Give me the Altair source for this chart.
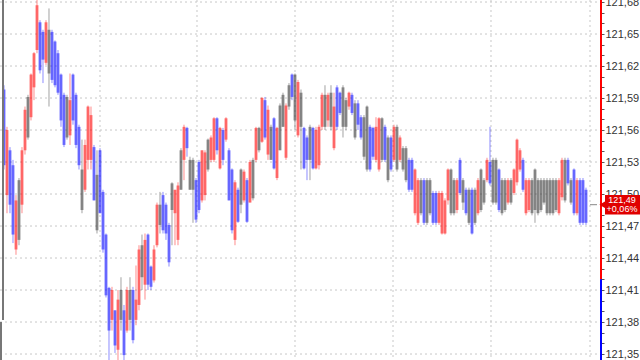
import altair as alt
import pandas as pd

# candle colour kind: r = up (red), b = down (blue), g = unchanged/other (gray)
kinds = list(
    "brbbrgrrgr" "rrbbrgbbbb" "bgrbbbgrrr" "bgbbbbrbrg" "brgbrrgrbb"
    "rrgbbbgrrg" "rbggbbrrgr" "rbrbrbbrbg" "rbrgrgrbrg" "brggrgbgrg"
    "bbgbrrrgrg" "rbbggrbgbb" "ggbbrrgbgb" "rgrggbbrrg" "bggbbrrrrg"
    "grbgbgbgrg" "grbggbggrg" "rrrbrrgggg" "gggggrrgbg" "brbbb"
)

body_tops = [
    121.598, 121.560, 121.541, 121.527, 121.494, 121.513, 121.541, 121.579, 121.591, 121.612,
    121.632, 121.677, 121.661, 121.652, 121.661, 121.654, 121.652, 121.643, 121.632, 121.612,
    121.593, 121.591, 121.588, 121.612, 121.593, 121.563, 121.523, 121.546, 121.582, 121.574,
    121.544, 121.518, 121.541, 121.502, 121.462, 121.412, 121.410, 121.391, 121.401, 121.410,
    121.391, 121.410, 121.410, 121.410, 121.401, 121.448, 121.452, 121.457, 121.462, 121.432,
    121.448, 121.490, 121.490, 121.499, 121.490, 121.471, 121.510, 121.504, 121.508, 121.541,
    121.563, 121.562, 121.532, 121.532, 121.513, 121.530, 121.541, 121.539, 121.551, 121.553,
    121.571, 121.571, 121.562, 121.560, 121.571, 121.541, 121.523, 121.511, 121.504, 121.523,
    121.521, 121.513, 121.530, 121.532, 121.562, 121.562, 121.590, 121.588, 121.579, 121.563,
    121.571, 121.562, 121.583, 121.593, 121.583, 121.602, 121.612, 121.612, 121.605, 121.595,
    121.562, 121.553, 121.563, 121.562, 121.560, 121.563, 121.593, 121.593, 121.593, 121.595,
    121.582, 121.600, 121.595, 121.600, 121.588, 121.595, 121.593, 121.585, 121.585, 121.572,
    121.572, 121.582, 121.563, 121.562, 121.563, 121.571, 121.571, 121.563, 121.553, 121.553,
    121.563, 121.563, 121.553, 121.543, 121.543, 121.532, 121.532, 121.523, 121.513, 121.513,
    121.513, 121.513, 121.513, 121.501, 121.501, 121.501, 121.501, 121.494, 121.523, 121.523,
    121.513, 121.513, 121.532, 121.513, 121.504, 121.504, 121.504, 121.504, 121.513, 121.523,
    121.513, 121.532, 121.530, 121.532, 121.532, 121.523, 121.513, 121.513, 121.513, 121.513,
    121.523, 121.551, 121.541, 121.532, 121.513, 121.513, 121.513, 121.523, 121.513, 121.513,
    121.513, 121.513, 121.513, 121.513, 121.513, 121.513, 121.532, 121.532, 121.532, 121.513,
    121.523, 121.513, 121.513, 121.513, 121.504,
]

body_bottoms = [
    121.527, 121.499, 121.490, 121.462, 121.448, 121.457, 121.490, 121.541, 121.553, 121.572,
    121.600, 121.635, 121.616, 121.626, 121.623, 121.613, 121.607, 121.602, 121.595, 121.569,
    121.546, 121.553, 121.555, 121.569, 121.546, 121.527, 121.485, 121.504, 121.532, 121.532,
    121.494, 121.466, 121.482, 121.448, 121.405, 121.372, 121.382, 121.358, 121.354, 121.382,
    121.349, 121.372, 121.382, 121.363, 121.382, 121.396, 121.422, 121.415, 121.415, 121.413,
    121.419, 121.452, 121.471, 121.466, 121.463, 121.436, 121.485, 121.482, 121.457, 121.504,
    121.532, 121.543, 121.504, 121.504, 121.476, 121.485, 121.494, 121.499, 121.523, 121.532,
    121.532, 121.541, 121.524, 121.532, 121.551, 121.494, 121.466, 121.457, 121.474, 121.490,
    121.494, 121.474, 121.492, 121.496, 121.532, 121.541, 121.549, 121.553, 121.537, 121.532,
    121.524, 121.515, 121.541, 121.563, 121.534, 121.582, 121.591, 121.569, 121.555, 121.563,
    121.524, 121.532, 121.532, 121.524, 121.524, 121.527, 121.563, 121.563, 121.569, 121.563,
    121.543, 121.563, 121.576, 121.563, 121.563, 121.582, 121.576, 121.553, 121.565, 121.553,
    121.535, 121.523, 121.523, 121.535, 121.532, 121.523, 121.532, 121.532, 121.513, 121.523,
    121.532, 121.523, 121.532, 121.523, 121.513, 121.504, 121.504, 121.482, 121.473, 121.482,
    121.473, 121.473, 121.482, 121.473, 121.473, 121.473, 121.463, 121.463, 121.494, 121.482,
    121.482, 121.485, 121.501, 121.492, 121.482, 121.473, 121.463, 121.473, 121.482, 121.485,
    121.492, 121.513, 121.510, 121.492, 121.492, 121.485, 121.482, 121.485, 121.492, 121.492,
    121.501, 121.511, 121.523, 121.504, 121.482, 121.485, 121.482, 121.485, 121.482, 121.485,
    121.492, 121.482, 121.482, 121.482, 121.485, 121.482, 121.497, 121.494, 121.510, 121.492,
    121.482, 121.482, 121.473, 121.473, 121.473,
]

highs = [
    121.602, 121.563, 121.544, 121.532, 121.499, 121.515, 121.544, 121.582, 121.593, 121.613,
    121.633, 121.682, 121.663, 121.654, 121.663, 121.674, 121.654, 121.644, 121.635, 121.613,
    121.595, 121.593, 121.613, 121.613, 121.595, 121.565, 121.551, 121.551, 121.583, 121.582,
    121.546, 121.541, 121.543, 121.504, 121.463, 121.413, 121.413, 121.391, 121.410, 121.422,
    121.396, 121.413, 121.422, 121.413, 121.433, 121.452, 121.462, 121.463, 121.463, 121.433,
    121.452, 121.492, 121.502, 121.502, 121.492, 121.473, 121.511, 121.504, 121.511, 121.543,
    121.565, 121.563, 121.535, 121.534, 121.515, 121.532, 121.541, 121.541, 121.552, 121.555,
    121.572, 121.572, 121.563, 121.562, 121.572, 121.543, 121.524, 121.513, 121.506, 121.524,
    121.523, 121.515, 121.532, 121.534, 121.563, 121.563, 121.591, 121.591, 121.583, 121.565,
    121.572, 121.563, 121.585, 121.595, 121.585, 121.604, 121.613, 121.613, 121.607, 121.598,
    121.563, 121.555, 121.565, 121.563, 121.563, 121.565, 121.595, 121.602, 121.595, 121.602,
    121.595, 121.602, 121.596, 121.602, 121.590, 121.596, 121.595, 121.588, 121.588, 121.574,
    121.574, 121.583, 121.565, 121.563, 121.572, 121.572, 121.572, 121.565, 121.555, 121.555,
    121.565, 121.565, 121.555, 121.545, 121.545, 121.534, 121.534, 121.524, 121.515, 121.515,
    121.515, 121.515, 121.515, 121.503, 121.503, 121.503, 121.503, 121.496, 121.524, 121.524,
    121.515, 121.515, 121.534, 121.515, 121.506, 121.506, 121.506, 121.506, 121.515, 121.524,
    121.515, 121.534, 121.563, 121.534, 121.534, 121.524, 121.515, 121.515, 121.515, 121.515,
    121.524, 121.552, 121.543, 121.534, 121.515, 121.515, 121.515, 121.524, 121.515, 121.515,
    121.515, 121.515, 121.515, 121.515, 121.515, 121.515, 121.534, 121.534, 121.534, 121.515,
    121.524, 121.515, 121.515, 121.515, 121.506,
]

lows = [
    121.523, 121.482, 121.482, 121.454, 121.443, 121.452, 121.482, 121.537, 121.551, 121.569,
    121.588, 121.632, 121.613, 121.604, 121.621, 121.582, 121.604, 121.600, 121.593, 121.563,
    121.544, 121.551, 121.546, 121.565, 121.543, 121.523, 121.482, 121.502, 121.523, 121.523,
    121.494, 121.463, 121.482, 121.445, 121.403, 121.344, 121.372, 121.351, 121.344, 121.372,
    121.340, 121.370, 121.372, 121.360, 121.377, 121.391, 121.410, 121.401, 121.410, 121.410,
    121.417, 121.450, 121.463, 121.463, 121.457, 121.432, 121.452, 121.452, 121.452, 121.504,
    121.513, 121.535, 121.504, 121.473, 121.473, 121.482, 121.492, 121.494, 121.521, 121.530,
    121.530, 121.537, 121.523, 121.527, 121.549, 121.494, 121.463, 121.452, 121.473, 121.482,
    121.492, 121.473, 121.492, 121.494, 121.530, 121.539, 121.548, 121.551, 121.532, 121.532,
    121.523, 121.513, 121.541, 121.563, 121.532, 121.579, 121.588, 121.560, 121.553, 121.523,
    121.523, 121.513, 121.513, 121.523, 121.523, 121.523, 121.560, 121.560, 121.563, 121.560,
    121.541, 121.560, 121.574, 121.553, 121.560, 121.579, 121.574, 121.551, 121.560, 121.551,
    121.532, 121.521, 121.521, 121.532, 121.530, 121.521, 121.530, 121.530, 121.511, 121.521,
    121.530, 121.521, 121.530, 121.521, 121.511, 121.502, 121.502, 121.480, 121.471, 121.480,
    121.471, 121.471, 121.480, 121.471, 121.471, 121.471, 121.462, 121.462, 121.490, 121.480,
    121.480, 121.482, 121.499, 121.485, 121.480, 121.471, 121.462, 121.471, 121.480, 121.483,
    121.490, 121.511, 121.508, 121.490, 121.490, 121.483, 121.480, 121.483, 121.490, 121.490,
    121.499, 121.508, 121.521, 121.502, 121.480, 121.483, 121.480, 121.473, 121.480, 121.483,
    121.490, 121.480, 121.480, 121.480, 121.483, 121.480, 121.494, 121.492, 121.508, 121.490,
    121.480, 121.480, 121.471, 121.471, 121.471,
]

grid_levels = [121.35, 121.38, 121.41, 121.44, 121.47, 121.50, 121.53, 121.56, 121.59, 121.62, 121.65, 121.68]
tick_levels = [round(121.35 + k * 0.01, 2) for k in range(34)]
time_marks = [32, 64.33, 97, 129.67, 162.33, 195.33]
prev_close = 121.42
last_price = 121.49
last_label = "121,49"
change_label = "+0,06%"

df = pd.DataFrame({
    "i": list(range(len(kinds))),
    "kind": kinds,
    "top": body_tops,
    "bot": body_bottoms,
    "high": highs,
    "low": lows,
})

yscale = alt.Scale(domain=[121.3444, 121.6819], nice=False, zero=False)
xscale = alt.Scale(domain=[-1.3333, 198.6667], nice=False, zero=False)

yaxis = alt.Axis(
    orient="right", values=tick_levels,
    labelExpr="round(datum.value*100) % 3 == 0 ? replace(format(datum.value, '.2f'), '.', ',') : ''",
    grid=False, domain=False, tickSize=4, tickColor="#555555", tickWidth=1,
    labelColor="#333333", labelFontSize=11, labelFont="Liberation Sans",
    labelPadding=1, labelOverlap=False, labelFlush=False, labelBound=False, title=None,
)

color = alt.Color("kind:N", scale=alt.Scale(domain=["r", "b", "g"],
                  range=["#ff0000", "#0000ff", "#333333"]), legend=None)

hgrid = alt.Chart(pd.DataFrame({"level": grid_levels})).mark_rule(
    color="#c8c8c8", strokeDash=[2, 3], strokeWidth=1
).encode(
    y=alt.Y("level:Q", scale=yscale, axis=yaxis),
    x=alt.value(0), x2=alt.value(600),
)

vgrid = alt.Chart(pd.DataFrame({"t": time_marks})).mark_rule(
    color="#c8c8c8", strokeDash=[2, 3], strokeWidth=1
).encode(
    x=alt.X("t:Q", scale=xscale, axis=None),
    y=alt.value(0), y2=alt.value(360),
)

base = alt.Chart(df)
bodies = base.mark_rule(strokeWidth=3, opacity=0.48, strokeCap="butt").encode(
    x=alt.X("i:Q", scale=xscale, axis=None),
    y=alt.Y("top:Q", scale=yscale, axis=yaxis),
    y2="bot:Q",
    color=color,
)
wicks = base.mark_rule(strokeWidth=1, opacity=0.45, strokeCap="butt").encode(
    x=alt.X("i:Q", scale=xscale, axis=None),
    y=alt.Y("high:Q", scale=yscale, axis=yaxis),
    y2="low:Q",
    color=color,
)

pc = pd.DataFrame({"p": [prev_close]})
axis_up = alt.Chart(pc).mark_rule(color="#ff0000", strokeWidth=2).encode(
    x=alt.value(601), y=alt.Y("p:Q", scale=yscale, axis=yaxis), y2=alt.value(0))
axis_dn = alt.Chart(pc).mark_rule(color="#0000ff", strokeWidth=2).encode(
    x=alt.value(601), y=alt.Y("p:Q", scale=yscale, axis=yaxis), y2=alt.value(360))

one = pd.DataFrame({"a": [0]})
left1 = alt.Chart(one).mark_rule(color="#777777", strokeWidth=2).encode(
    x=alt.value(3), y=alt.value(0), y2=alt.value(320))
left2 = alt.Chart(one).mark_rule(color="#777777", strokeWidth=2).encode(
    x=alt.value(1), y=alt.value(322), y2=alt.value(360))

lp = pd.DataFrame({"p": [last_price], "t1": [last_label], "t2": [change_label]})
cur_tick = alt.Chart(lp).mark_rule(color="#888888", strokeWidth=1).encode(
    x=alt.value(590), x2=alt.value(597), y=alt.Y("p:Q", scale=yscale, axis=yaxis))
tag_box = alt.Chart(lp).transform_calculate(
    up="datum.p + 0.0092", dn="datum.p - 0.0092"
).mark_rect(color="#e00000").encode(
    x=alt.value(605), x2=alt.value(640),
    y=alt.Y("up:Q", scale=yscale, axis=yaxis), y2="dn:Q")
tag_arrow = alt.Chart(lp).mark_point(shape="triangle-left", filled=True, color="#e00000",
                                     size=70, opacity=1).encode(
    x=alt.value(603), y=alt.Y("p:Q", scale=yscale, axis=yaxis))
tag_t1 = alt.Chart(lp).mark_text(color="white", fontSize=9, font="Liberation Sans",
                                 dy=-4.5, align="center", baseline="middle").encode(
    x=alt.value(622), y=alt.Y("p:Q", scale=yscale, axis=yaxis), text="t1:N")
tag_t2 = alt.Chart(lp).mark_text(color="white", fontSize=9, font="Liberation Sans",
                                 dy=4.5, align="center", baseline="middle").encode(
    x=alt.value(622), y=alt.Y("p:Q", scale=yscale, axis=yaxis), text="t2:N")

chart = alt.layer(
    hgrid, vgrid, bodies, wicks, axis_up, axis_dn, left1, left2,
    cur_tick, tag_box, tag_arrow, tag_t1, tag_t2
).properties(
    width=600, height=360,
    autosize=alt.AutoSizeParams(type="none"),
    padding={"left": 0, "top": 0, "right": 40, "bottom": 0},
    background="white",
).configure_view(stroke=None)

chart.save("out.html", embed_options={"renderer": "svg", "actions": False})
